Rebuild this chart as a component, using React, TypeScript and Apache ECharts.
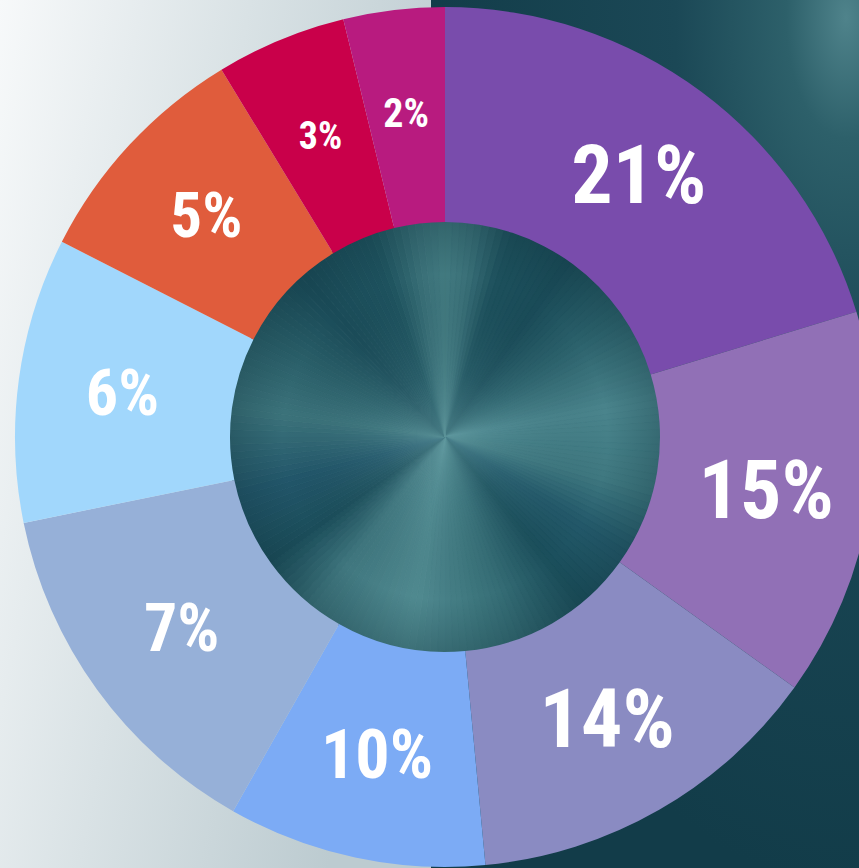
import React, { useEffect, useRef } from "react";
import * as echarts from "echarts";

// Slice sizes (share of the full turn) and the printed labels
const sliceShares = [20.3, 14.6, 13.6, 9.7, 13.6, 10.7, 8.8, 4.9, 3.8];
const labelPercents = [21, 15, 14, 10, 7, 6, 5, 3, 2];

const W = 859;
const H = 868;
const CX = 445;
const CY = 437;
const R_IN = 215;
const R_OUT = 430;

const palette = [
  "#794cac",
  "#9170b6",
  "#8a8bc2",
  "#7cabf5",
  "#96b0d8",
  "#a1d7fc",
  "#e05c3c",
  "#c9004a",
  "#b81b7f",
];
const labelFont = [82, 82, 82, 68, 66, 64, 63, 38, 40];

// brushed-metal conic look for the centre disc (decoration)
const conicStops: [number, string][] = [
  [0, "#427a80"],
  [8, "#3a7078"],
  [18, "#1d505c"],
  [35, "#1a4b58"],
  [55, "#2c626c"],
  [80, "#4a848c"],
  [105, "#3f7880"],
  [122, "#23596a"],
  [140, "#1b4e5b"],
  [160, "#356d75"],
  [190, "#508a90"],
  [218, "#3f767e"],
  [235, "#1b4d5a"],
  [255, "#22566a"],
  [278, "#3c737b"],
  [298, "#2a5f69"],
  [318, "#1a4b58"],
  [340, "#1e525e"],
  [352, "#3a7078"],
  [360, "#427a80"],
];

function hexToRgb(h: string) {
  const n = parseInt(h.slice(1), 16);
  return [(n >> 16) & 255, (n >> 8) & 255, n & 255];
}

function conicColor(deg: number) {
  for (let i = 0; i < conicStops.length - 1; i++) {
    const [a, ca] = conicStops[i];
    const [b, cb] = conicStops[i + 1];
    if (deg >= a && deg <= b) {
      const t = (deg - a) / (b - a);
      const A = hexToRgb(ca);
      const B = hexToRgb(cb);
      const c = A.map((v, k) => Math.round(v + (B[k] - v) * t));
      return `rgb(${c[0]},${c[1]},${c[2]})`;
    }
  }
  return conicStops[0][1];
}

function buildGraphic() {
  const els: any[] = [];
  els.push({
    type: "rect",
    silent: true,
    z: 0,
    shape: { x: 0, y: 0, width: 432, height: H },
    style: {
      fill: {
        type: "linear",
        x: 0,
        y: 0,
        x2: 1,
        y2: 0.4,
        colorStops: [
          { offset: 0, color: "#f7f9fa" },
          { offset: 0.5, color: "#d9e2e5" },
          { offset: 1, color: "#bccbd0" },
        ],
      },
    },
  });
  els.push({
    type: "rect",
    silent: true,
    z: 0,
    shape: { x: 431, y: 0, width: W - 431, height: H },
    style: {
      fill: {
        type: "radial",
        x: 0.97,
        y: 0.02,
        r: 1.0,
        colorStops: [
          { offset: 0, color: "#4f838b" },
          { offset: 0.14, color: "#2d606a" },
          { offset: 0.4, color: "#1b4856" },
          { offset: 1, color: "#123c49" },
        ],
      },
    },
  });
  const step = 2;
  for (let d = 0; d < 360; d += step) {
    const col = conicColor(d + step / 2);
    els.push({
      type: "sector",
      silent: true,
      z: 1,
      shape: {
        cx: CX,
        cy: CY,
        r0: 0,
        r: R_IN + 2,
        startAngle: ((d - 90) * Math.PI) / 180,
        endAngle: ((d + step - 90) * Math.PI) / 180,
      },
      style: { fill: col, stroke: col, lineWidth: 0.8 },
    });
  }
  els.push({
    type: "circle",
    silent: true,
    z: 1,
    shape: { cx: CX, cy: CY, r: R_IN + 2 },
    style: {
      fill: {
        type: "radial",
        x: 0.5,
        y: 0.5,
        r: 0.5,
        colorStops: [
          { offset: 0, color: "rgba(120,175,180,0.5)" },
          { offset: 0.3, color: "rgba(95,150,158,0.18)" },
          { offset: 0.75, color: "rgba(20,60,70,0)" },
          { offset: 1, color: "rgba(15,50,60,0.3)" },
        ],
      },
    },
  });
  return els;
}

export default function App() {
  const ref = useRef<HTMLDivElement>(null);
  useEffect(() => {
    document.body.style.margin = "0";
    if (!ref.current) return;
    const chart = echarts.init(ref.current, undefined, { renderer: "svg" });
    const data = sliceShares.map((v, i) => ({
      value: v,
      name: `${labelPercents[i]}%`,
      itemStyle: { color: palette[i] },
      label: { fontSize: labelFont[i] },
    }));
    chart.setOption({
      animation: false,
      graphic: { elements: buildGraphic() },
      series: [
        {
          type: "pie",
          z: 2,
          silent: true,
          center: [CX, CY],
          radius: [R_IN, R_OUT],
          startAngle: 90,
          clockwise: true,
          avoidLabelOverlap: false,
          itemStyle: { borderWidth: 0 },
          label: {
            show: true,
            position: "inside",
            color: "#ffffff",
            fontFamily: "'Roboto Condensed', 'Liberation Sans Narrow', Roboto, sans-serif",
            fontWeight: "bold",
            formatter: (p: any) => `${labelPercents[p.dataIndex]}%`,
          },
          labelLine: { show: false },
          emphasis: { disabled: true },
          data,
        },
      ],
    });
    return () => chart.dispose();
  }, []);
  return <div ref={ref} style={{ width: W, height: H }} />;
}
